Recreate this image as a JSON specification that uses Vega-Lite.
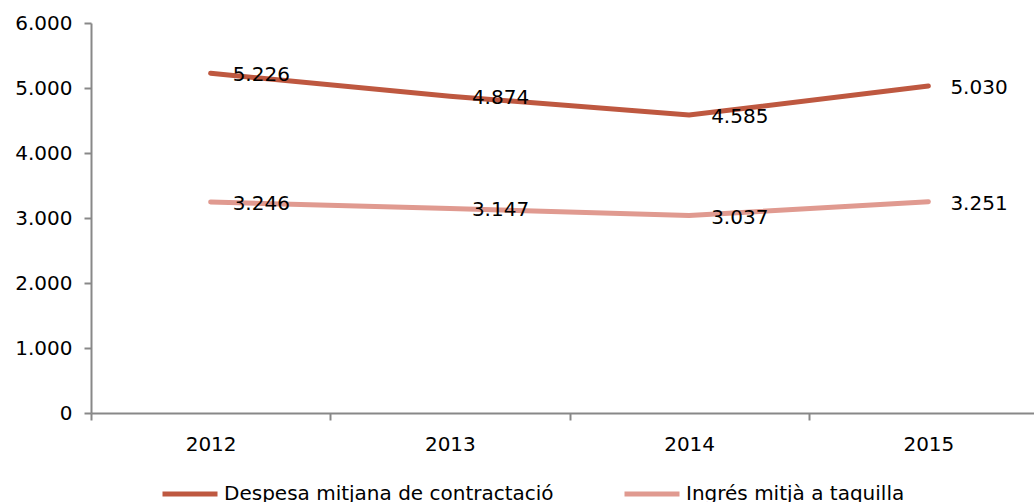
{
  "$schema": "https://vega.github.io/schema/vega-lite/v6.json",
  "autosize": "none",
  "width": 957,
  "height": 390,
  "padding": {"left": 91, "top": 23, "right": 0, "bottom": 89},
  "background": "white",
  "config": {
    "locale": {"number": {"decimal": ",", "thousands": ".", "grouping": [3], "currency": ["", " €"]}},
    "view": {"stroke": null},
    "font": "DejaVu Sans"
  },
  "data": {
    "values": [
      {"year": "2012", "serie": "Despesa mitjana de contractació", "value": 5226},
      {"year": "2013", "serie": "Despesa mitjana de contractació", "value": 4874},
      {"year": "2014", "serie": "Despesa mitjana de contractació", "value": 4585},
      {"year": "2015", "serie": "Despesa mitjana de contractació", "value": 5030},
      {"year": "2012", "serie": "Ingrés mitjà a taquilla", "value": 3246},
      {"year": "2013", "serie": "Ingrés mitjà a taquilla", "value": 3147},
      {"year": "2014", "serie": "Ingrés mitjà a taquilla", "value": 3037},
      {"year": "2015", "serie": "Ingrés mitjà a taquilla", "value": 3251}
    ]
  },
  "encoding": {
    "x": {
      "field": "year", "type": "ordinal", "title": null,
      "scale": {"paddingInner": 0, "paddingOuter": 0},
      "axis": {"labelAngle": 0, "tickBand": "extent", "domainColor": "#888888", "tickColor": "#888888", "domainWidth": 2, "tickWidth": 2, "tickSize": 7, "labelPadding": 14, "labelFontSize": 20, "labelColor": "#000000", "labelFont": "DejaVu Sans", "grid": false}
    },
    "y": {
      "field": "value", "type": "quantitative", "title": null,
      "scale": {"domain": [0, 6000], "nice": false},
      "axis": {"values": [0, 1000, 2000, 3000, 4000, 5000, 6000], "format": ",d", "domainColor": "#888888", "tickColor": "#888888", "domainWidth": 2, "tickWidth": 2, "tickSize": 7, "labelPadding": 12, "labelFontSize": 20, "labelColor": "#000000", "labelFont": "DejaVu Sans", "grid": false}
    },
    "color": {
      "field": "serie", "type": "nominal", "title": null,
      "scale": {"domain": ["Despesa mitjana de contractació", "Ingrés mitjà a taquilla"], "range": ["#BE5840", "#E09A90"]},
      "legend": {"orient": "none", "legendX": 69, "legendY": 441, "direction": "horizontal", "symbolType": "stroke", "symbolStrokeWidth": 5, "symbolSize": 3025, "labelFontSize": 20, "labelFont": "DejaVu Sans", "labelColor": "#000000", "columnPadding": 60, "labelOffset": 4, "labelLimit": 500}
    }
  },
  "layer": [
    {"mark": {"type": "line", "strokeWidth": 5, "strokeCap": "round"}},
    {
      "mark": {"type": "text", "align": "left", "baseline": "middle", "dx": 22, "dy": 2, "fontSize": 20, "font": "DejaVu Sans", "color": "#000000"},
      "encoding": {"text": {"field": "value", "type": "quantitative", "format": ",d"}, "color": {"value": "#000000"}}
    }
  ]
}
